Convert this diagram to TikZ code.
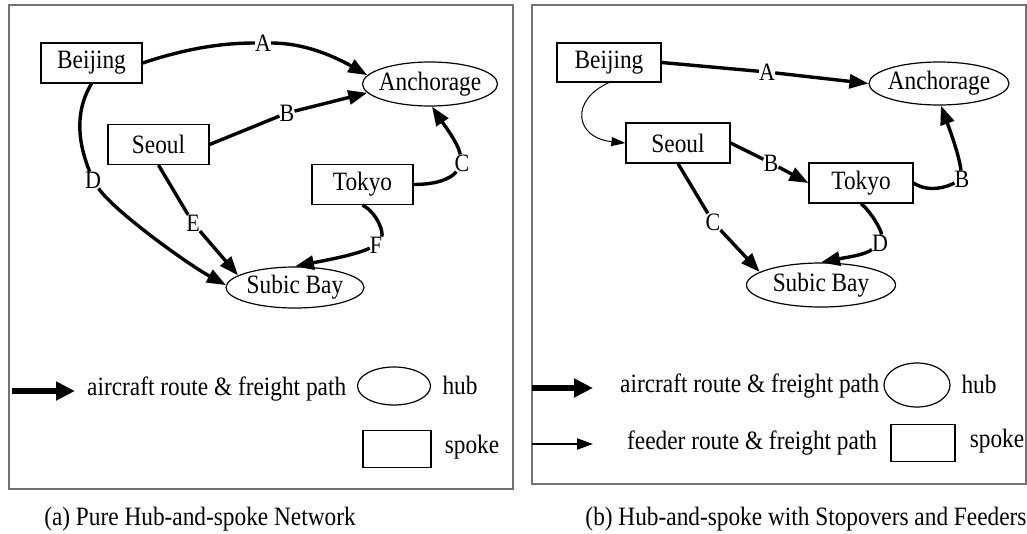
\documentclass[tikz,border=0pt]{standalone}
\usepackage{fontspec}
\setmainfont{Liberation Serif}[FakeStretch=0.88]
\usetikzlibrary{arrows.meta,shapes.geometric}

\newcommand\mainsize{\fontsize{26.5}{30}\selectfont}
\newcommand\edgesize{\fontsize{25}{27}\selectfont}
\newcommand\hubname[1]{\makebox[0pt]{#1}}

\begin{document}
\begin{tikzpicture}[x=1pt,y=-1pt,
  spoke/.style={draw,line width=1.2pt,minimum width=101pt,minimum height=40pt,inner sep=0pt,font=\mainsize},
  hub/.style={draw,ellipse,line width=1.2pt,inner sep=0pt,font=\mainsize},
  lbl/.style={inner sep=0pt,font=\edgesize},
  seg/.style={line width=3.4pt},
  route/.style={line width=3.4pt,-{Triangle[length=19pt,width=14pt]}},
  feeder/.style={line width=1pt,-{Triangle[length=14pt,width=9pt]}},
  legroute/.style={line width=5.5pt,-{Triangle[length=19pt,width=18pt]}},
  legfeeder/.style={line width=2pt,-{Triangle[length=16pt,width=11pt]}},
  legtext/.style={font=\mainsize,inner sep=0pt},
  panel/.style={draw=black!55,line width=1.6pt}
]
\useasboundingbox (0,0) rectangle (1027,533);

% panel frames
\draw[panel] (9,5) rectangle (513,489);
\draw[panel] (532,5) rectangle (1026,484);

% ---------- (a) pure hub-and-spoke ----------
\node[spoke] (bjA) at (91.5,63) {Beijing};
\node[spoke] (seA) at (158.5,144.5) {Seoul};
\node[spoke] (tkA) at (362.5,184.5) {Tokyo};
\node[hub,minimum width=135pt,minimum height=44pt] (anA) at (430,84) {\hubname{Anchorage}};
\node[hub,minimum width=138pt,minimum height=41pt] (sbA) at (295,287.5) {\hubname{Subic Bay}};

\node[lbl] (aA) at (263,43) {A};
\node[lbl] (aB) at (287,113) {B};
\node[lbl] (aC) at (462,163) {C};
\node[lbl] (aD) at (93,180) {D};
\node[lbl] (aE) at (193,223) {E};
\node[lbl] (aF) at (376,245) {F};

\draw[seg] (bjA.east) .. controls +(45,-15) and +(-40,0) .. (aA);
\draw[route] (aA) .. controls +(40,0) and +(-35,-20) .. (anA.172);
\draw[seg] (seA.east) -- (aB);
\draw[route] (aB) -- (anA.188);
\draw[seg] (tkA.east) .. controls +(30,0) and +(-8,12) .. (aC);
\draw[route] (aC) .. controls +(-4,-20) and +(12,18) .. (anA.-85);
\draw[seg] (bjA.south) .. controls +(-18,30) and +(-14,-35) .. (aD);
\draw[route] (aD) .. controls +(20,30) and +(-40,-22) .. (sbA.178);
\draw[seg] (seA.south) -- (aE);
\draw[route] (aE) -- (sbA.168);
\draw[seg] (tkA.south) .. controls +(15,8) and +(8,-12) .. (aF);
\draw[route] (aF) .. controls +(-20,10) and +(25,-5) .. (sbA.north);

% legend (a)
\coordinate (lgaS) at (12,391);
\coordinate (lgaE) at (75,391);
\draw[legroute] (lgaS) -- (lgaE);
\node[legtext,anchor=west] (lgaT) at (87,389) {aircraft route \& freight path};
\node[hub,minimum width=73pt,minimum height=38pt] (lgaH) at (394,386) {};
\node[legtext] (lgaHt) at (460,385) {hub};
\node[draw,line width=1.2pt,minimum width=68pt,minimum height=37pt] (lgaR) at (397,449) {};
\node[legtext] (lgaRt) at (472,447) {spoke};

\node[legtext] (capA) at (200,519) {(a) Pure Hub-and-spoke Network};

% ---------- (b) stopovers and feeders ----------
\node[spoke,minimum width=104pt,minimum height=39pt] (bjB) at (609,62.5) {Beijing};
\node[spoke,minimum width=104pt] (seB) at (678,143) {Seoul};
\node[spoke,minimum width=104pt] (tkB) at (861,183) {Tokyo};
\node[hub,minimum width=140pt,minimum height=43pt] (anB) at (939,83.5) {\hubname{Anchorage}};
\node[hub,minimum width=149pt,minimum height=44pt] (sbB) at (821,285) {\hubname{Subic Bay}};

\node[lbl] (bA) at (767,72) {A};
\node[lbl] (bB1) at (771,163) {B};
\node[lbl] (bB2) at (962,179) {B};
\node[lbl] (bC) at (713,222) {C};
\node[lbl] (bD) at (880,243) {D};

\draw[seg] (bjB.east) -- (bA);
\draw[route] (bA) -- (anB.west);
\draw[feeder] (bjB.south) .. controls +(-40,18) and +(-50,-5) .. (seB.west);
\draw[seg] (seB.east) -- (bB1);
\draw[route] (bB1) -- (tkB.west);
\draw[seg] (tkB.east) .. controls +(15,10) and +(-15,8) .. (bB2);
\draw[route] (bB2) .. controls +(-3,-25) and +(8,22) .. (anB.-85);
\draw[seg] (seB.south) -- (bC);
\draw[route] (bC) -- (sbB.168);
\draw[seg] (tkB.south) .. controls +(10,8) and +(2,-12) .. (bD);
\draw[route] (bD) .. controls +(-15,12) and +(25,-5) .. (sbB.north);

% legend (b)
\coordinate (lgbS) at (532,388);
\coordinate (lgbE) at (593,388);
\coordinate (lgbS2) at (532,444);
\coordinate (lgbE2) at (593,444);
\draw[legroute] (lgbS) -- (lgbE);
\draw[legfeeder] (lgbS2) -- (lgbE2);
\node[legtext,anchor=west] (lgbT) at (620,386) {aircraft route \& freight path};
\node[legtext,anchor=west] (lgbT2) at (627,443) {feeder route \& freight path};
\node[hub,minimum width=66pt,minimum height=44pt] (lgbH) at (917,385) {};
\node[legtext] (lgbHt) at (979,384) {hub};
\node[draw,line width=1.2pt,minimum width=64pt,minimum height=37pt] (lgbR) at (923,443) {};
\node[legtext] (lgbRt) at (997,441) {spoke};

\node[legtext] (capB) at (806,519) {(b) Hub-and-spoke with Stopovers and Feeders};
\end{tikzpicture}
\end{document}
